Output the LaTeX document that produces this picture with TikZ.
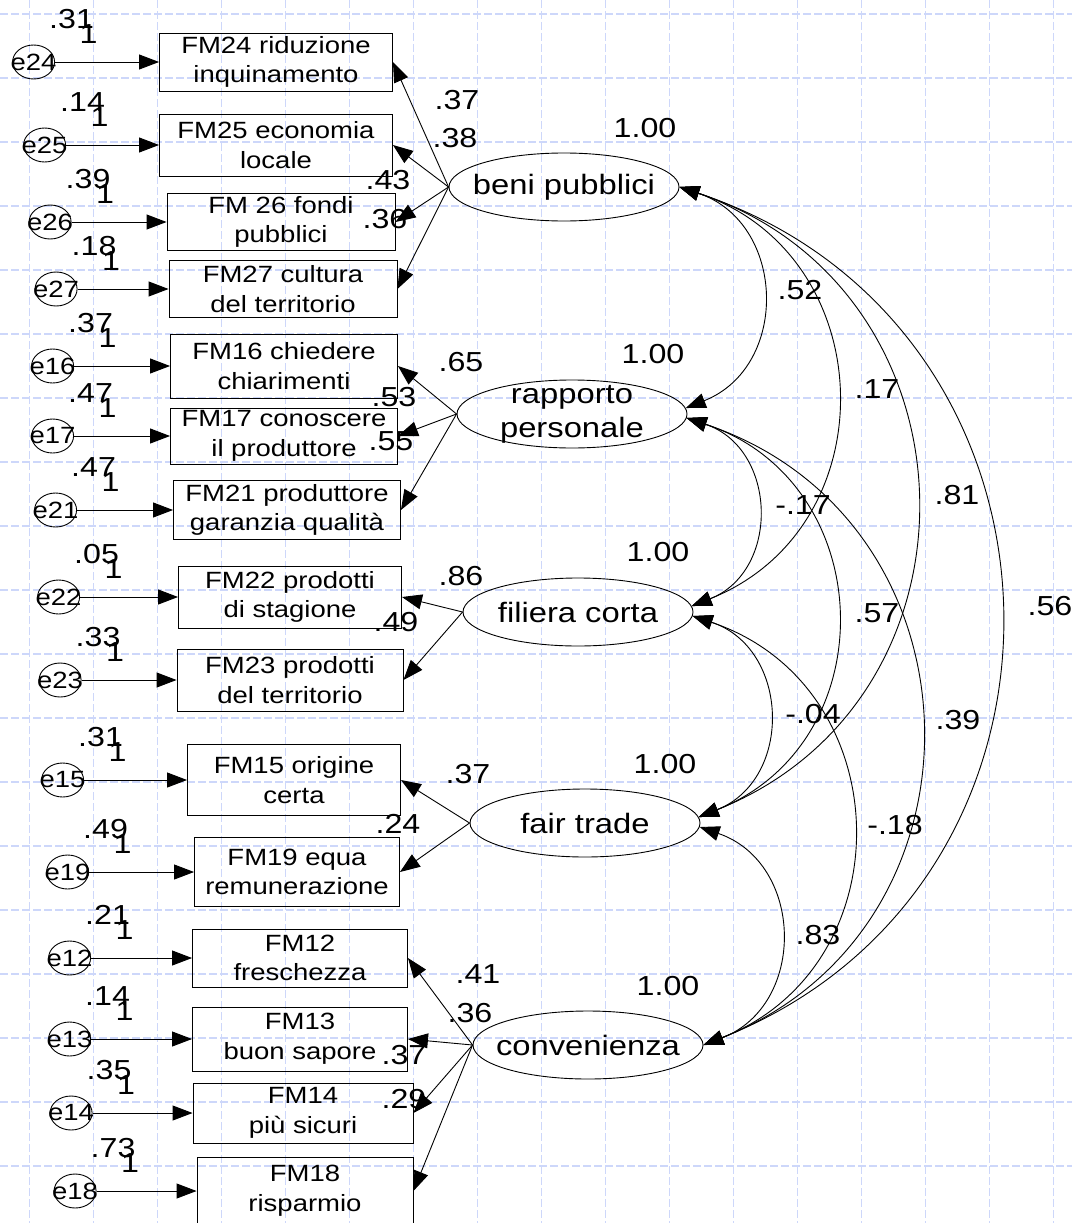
\documentclass[tikz,border=0pt]{standalone}
\usepackage{fontspec}
\setmainfont{Liberation Sans}[FakeStretch=1.17]
\usetikzlibrary{positioning}
\usetikzlibrary{shapes}
\usetikzlibrary{arrows.meta}
\usetikzlibrary{calc}
\definecolor{gridblue}{RGB}{205,215,250}
\tikzstyle{M} = [rectangle,draw=black,inner sep=0pt,align=center,font=\fontsize{23.5}{29.7}\selectfont]
\tikzstyle{E} = [ellipse,draw=black,inner sep=-10pt,minimum width=42pt,minimum height=34pt,font=\fontsize{23.5}{28}\selectfont]
\tikzstyle{L} = [ellipse,draw=black,inner sep=-40pt,minimum width=230pt,minimum height=68pt,align=center,font=\fontsize{28}{34}\selectfont]
\tikzstyle{V} = [inner sep=0pt,font=\fontsize{27.5}{30}\selectfont]
\tikzstyle{G} = [gridblue,line width=1.3pt,dash pattern=on 8pt off 3pt]
\tikzstyle{C} = [<->,bend left=70,looseness=1.3]
\tikzset{>={Triangle[length=20pt,width=15pt]}}

\begin{document}
\begin{tikzpicture}[x=1pt,y=-1pt,line width=0.9pt]
  \useasboundingbox (0,0) rectangle (1072,1223);
  \foreach \x in {0,...,16} \draw [G] ({29.3+64*\x},0) -- ({29.3+64*\x},1223);
  \foreach \y in {0,...,18} \draw [G] (0,{14+64*\y}) -- (1072,{14+64*\y});

  % observed variables
  \node [M,minimum width=233pt,minimum height=58pt] (n24) at (276,62) {FM24 riduzione\\inquinamento};
  \node [M,minimum width=233pt,minimum height=62pt] (n25) at (276,145) {FM25 economia\\locale};
  \node [M,minimum width=228pt,minimum height=57pt] (n26) at (281,222) {FM 26 fondi\\pubblici};
  \node [M,minimum width=228pt,minimum height=57pt] (n27) at (283,289) {FM27 cultura\\del territorio};
  \node [M,minimum width=227pt,minimum height=64pt] (n16) at (284,366) {FM16 chiedere\\chiarimenti};
  \node [M,minimum width=227pt,minimum height=56pt] (n17) at (284,436) {FM17 conoscere\\il produttore};
  \node [M,minimum width=227pt,minimum height=59pt] (n21) at (287,510) {FM21 produttore\\garanzia qualità};
  \node [M,minimum width=223pt,minimum height=62pt] (n22) at (290,597) {FM22 prodotti\\di stagione};
  \node [M,minimum width=226pt,minimum height=62pt] (n23) at (290,680) {FM23 prodotti\\del territorio};
  \node [M,minimum width=213pt,minimum height=71pt] (n15) at (294,780) {FM15 origine\\certa};
  \node [M,minimum width=205pt,minimum height=69pt] (n19) at (297,872) {FM19 equa\\remunerazione};
  \node [M,minimum width=215pt,minimum height=58pt] (n12) at (300,958) {FM12\\freschezza};
  \node [M,minimum width=215pt,minimum height=64pt] (n13) at (300,1039) {FM13\\buon sapore};
  \node [M,minimum width=220pt,minimum height=60pt] (n14) at (303,1113) {FM14\\più sicuri};
  \node [M,minimum width=216pt,minimum height=68pt] (n18) at (305,1191) {FM18\\risparmio};

  % error terms
  \node [E,left=104pt of n24] (e24) {e24};
  \node [E,left=93pt of n25] (e25) {e25};
  \node [E,left=95pt of n26] (e26) {e26};
  \node [E,left=91pt of n27] (e27) {e27};
  \node [E,left=96pt of n16] (e16) {e16};
  \node [E,left=96pt of n17] (e17) {e17};
  \node [E,left=96pt of n21] (e21) {e21};
  \node [E,left=98pt of n22] (e22) {e22};
  \node [E,left=95pt of n23] (e23) {e23};
  \node [E,left=103pt of n15] (e15) {e15};
  \node [E,left=105pt of n19] (e19) {e19};
  \node [E,left=101pt of n12] (e12) {e12};
  \node [E,left=101pt of n13] (e13) {e13};
  \node [E,left=100pt of n14] (e14) {e14};
  \node [E,left=100pt of n18] (e18) {e18};

  \draw [->] (e24) -- (n24);
  \draw [->] (e25) -- (n25);
  \draw [->] (e26) -- (n26);
  \draw [->] (e27) -- (n27);
  \draw [->] (e16) -- (n16);
  \draw [->] (e17) -- (n17);
  \draw [->] (e21) -- (n21);
  \draw [->] (e22) -- (n22);
  \draw [->] (e23) -- (n23);
  \draw [->] (e15) -- (n15);
  \draw [->] (e19) -- (n19);
  \draw [->] (e12) -- (n12);
  \draw [->] (e13) -- (n13);
  \draw [->] (e14) -- (n14);
  \draw [->] (e18) -- (n18);

  \node [V] (v24) at ($(e24)+(38,-43)$) {.31};
  \node [V] (w24) at ($(e24)+(55,-28)$) {1};
  \node [V] (v25) at ($(e25)+(38,-43)$) {.14};
  \node [V] (w25) at ($(e25)+(55,-28)$) {1};
  \node [V] (v26) at ($(e26)+(38,-43)$) {.39};
  \node [V] (w26) at ($(e26)+(55,-28)$) {1};
  \node [V] (v27) at ($(e27)+(38,-43)$) {.18};
  \node [V] (w27) at ($(e27)+(55,-28)$) {1};
  \node [V] (v16) at ($(e16)+(38,-43)$) {.37};
  \node [V] (w16) at ($(e16)+(55,-28)$) {1};
  \node [V] (v17) at ($(e17)+(38,-43)$) {.47};
  \node [V] (w17) at ($(e17)+(55,-28)$) {1};
  \node [V] (v21) at ($(e21)+(38,-43)$) {.47};
  \node [V] (w21) at ($(e21)+(55,-28)$) {1};
  \node [V] (v22) at ($(e22)+(38,-43)$) {.05};
  \node [V] (w22) at ($(e22)+(55,-28)$) {1};
  \node [V] (v23) at ($(e23)+(38,-43)$) {.33};
  \node [V] (w23) at ($(e23)+(55,-28)$) {1};
  \node [V] (v15) at ($(e15)+(38,-43)$) {.31};
  \node [V] (w15) at ($(e15)+(55,-28)$) {1};
  \node [V] (v19) at ($(e19)+(38,-43)$) {.49};
  \node [V] (w19) at ($(e19)+(55,-28)$) {1};
  \node [V] (v12) at ($(e12)+(38,-43)$) {.21};
  \node [V] (w12) at ($(e12)+(55,-28)$) {1};
  \node [V] (v13) at ($(e13)+(38,-43)$) {.14};
  \node [V] (w13) at ($(e13)+(55,-28)$) {1};
  \node [V] (v14) at ($(e14)+(38,-43)$) {.35};
  \node [V] (w14) at ($(e14)+(55,-28)$) {1};
  \node [V] (v18) at ($(e18)+(38,-43)$) {.73};
  \node [V] (w18) at ($(e18)+(55,-28)$) {1};

  % factors
  \node [L] (l1) at (564,187) {beni pubblici};
  \node [L] (l2) at (572,414) {rapporto\\personale};
  \node [L] (l3) at (578,612) {filiera corta};
  \node [L] (l4) at (585,823) {fair trade};
  \node [L] (l5) at (588,1045) {convenienza};
  \node [V] (f1) at (645,128) {1.00};
  \node [V] (f2) at (653,354) {1.00};
  \node [V] (f3) at (658,552) {1.00};
  \node [V] (f4) at (665,764) {1.00};
  \node [V] (f5) at (668,986) {1.00};

  \draw [->] (l1.west) -- (n24.east);
  \draw [->] (l1.west) -- (n25.east);
  \draw [->] (l1.west) -- (n26.east);
  \draw [->] (l1.west) -- (n27.east);
  \node [V] (k1) at (457,100) {.37};
  \node [V] (k2) at (455,138) {.38};
  \node [V] (k3) at (388,180) {.43};
  \node [V] (k4) at (385,219) {.36};

  \draw [->] (l2.west) -- (n16.east);
  \draw [->] (l2.west) -- (n17.east);
  \draw [->] (l2.west) -- (n21.east);
  \node [V] (k5) at (461,362) {.65};
  \node [V] (k6) at (394,397) {.53};
  \node [V] (k7) at (391,441) {.55};

  \draw [->] (l3.west) -- (n22.east);
  \draw [->] (l3.west) -- (n23.east);
  \node [V] (k8) at (461,576) {.86};
  \node [V] (k9) at (396,622) {.49};

  \draw [->] (l4.west) -- (n15.east);
  \draw [->] (l4.west) -- (n19.east);
  \node [V] (k10) at (468,774) {.37};
  \node [V] (k11) at (398,824) {.24};

  \draw [->] (l5.west) -- (n12.east);
  \draw [->] (l5.west) -- (n13.east);
  \draw [->] (l5.west) -- (n14.east);
  \draw [->] (l5.west) -- (n18.east);
  \node [V] (k12) at (478,974) {.41};
  \node [V] (k13) at (470,1013) {.36};
  \node [V] (k14) at (404,1055) {.37};
  \node [V] (k15) at (404,1099) {.29};

  % correlations
  \draw [C] (l1.east) to (l2.3);
  \draw [C] (l1.east) to (l3.3);
  \draw [C] (l1.east) to (l4.3);
  \draw [C] (l1.east) to (l5.east);
  \draw [C] (l2.-2) to (l3.3);
  \draw [C] (l2.-2) to (l4.3);
  \draw [C] (l2.-2) to (l5.east);
  \draw [C] (l3.-2) to (l4.3);
  \draw [C] (l3.-2) to (l5.east);
  \draw [C] (l4.-2) to (l5.east);
  \node [V] (c1) at (800,290) {.52};
  \node [V] (c2) at (877,389) {.17};
  \node [V] (c3) at (957,495) {.81};
  \node [V] (c4) at (1050,606) {.56};
  \node [V] (c5) at (803,505) {-.17};
  \node [V] (c6) at (877,613) {.57};
  \node [V] (c7) at (958,720) {.39};
  \node [V] (c8) at (813,714) {-.04};
  \node [V] (c9) at (895,825) {-.18};
  \node [V] (c10) at (818,935) {.83};
\end{tikzpicture}
\end{document}
